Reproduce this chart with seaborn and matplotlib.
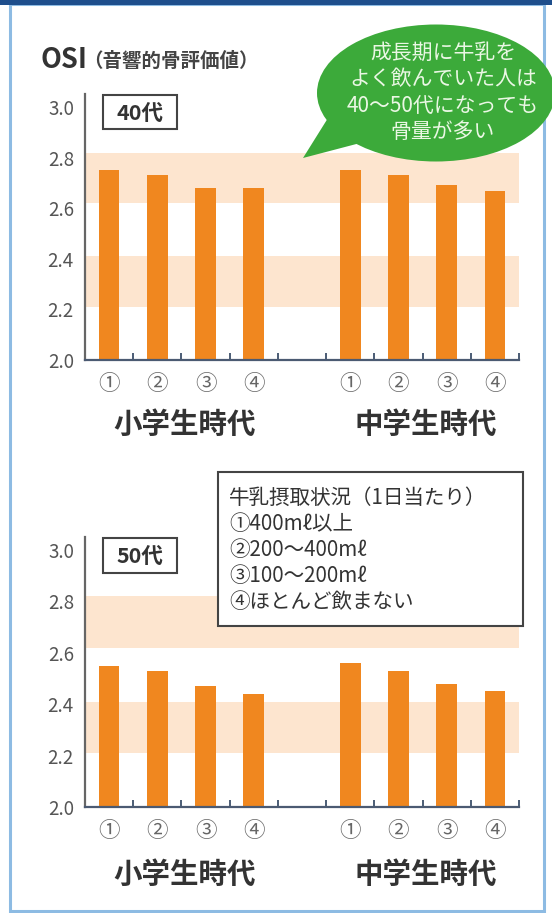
import numpy as np
import pandas as pd
import matplotlib
matplotlib.use("Agg")
import matplotlib.pyplot as plt
import seaborn as sns
from matplotlib.patches import Ellipse, Polygon, Rectangle
from matplotlib.ticker import FixedLocator

sns.set_theme(style="white")
plt.rcParams['font.family'] = ['Noto Sans CJK JP', 'DejaVu Sans']

# ---------------- data ----------------
periods = ["小学生時代", "中学生時代"]
intake = ["①", "②", "③", "④"]
osi_40_elem = [2.75, 2.73, 2.68, 2.68]
osi_40_jhs = [2.75, 2.73, 2.69, 2.67]
osi_50_elem = [2.55, 2.53, 2.47, 2.44]
osi_50_jhs = [2.56, 2.53, 2.48, 2.45]
bands = [(2.21, 2.41), (2.62, 2.82)]
yticks = [2.0, 2.2, 2.4, 2.6, 2.8, 3.0]
age_labels = ["40代", "50代"]
title_main = "OSI"
title_sub = "（音響的骨評価値）"
legend_title = "牛乳摂取状況（1日当たり）"
legend_items = ["①400mℓ以上", "②200～400mℓ", "③100～200mℓ", "④ほとんど飲まない"]
bubble_lines = ["成長期に牛乳を", "よく飲んでいた人は", "40～50代になっても", "骨量が多い"]

BAR = "#F0871F"
BAND = "#FDE5CF"
GREEN = "#3CAA3A"
W, H = 552, 913

fig = plt.figure(figsize=(W / 100, H / 100), dpi=100)
fig.patch.set_facecolor("white")


def make_df(elem, jhs):
    rows = []
    for p, vals in zip(periods, [elem, jhs]):
        for n, v in zip(intake, vals):
            rows.append({"cat": p + n, "osi": v})
    return pd.DataFrame(rows)


order = [periods[0] + n for n in intake] + ["gap"] + [periods[1] + n for n in intake]
xticklabels = intake + [""] + intake


def panel(rect, elem, jhs, label_off):
    ax = fig.add_axes(rect)
    df = make_df(elem, jhs)
    for lo, hi in bands:
        ax.axhspan(lo, hi, color=BAND, lw=0, zorder=0)
    sns.barplot(data=df, x="cat", y="osi", order=order, color=BAR, width=0.43,
                saturation=1, errorbar=None, linewidth=0, ax=ax, zorder=2)
    ax.set_xlim(-0.5, len(order) - 0.5)
    ax.set_ylim(2.0, 3.05)
    ax.set_yticks(yticks)
    ax.set_yticklabels([f"{v:.1f}" for v in yticks])
    ax.set_xticks(range(len(order)))
    ax.set_xticklabels(xticklabels)
    ax.set_xlabel("")
    ax.set_ylabel("")
    ax.set_facecolor("none")
    ax.tick_params(axis="y", length=0, pad=8, labelsize=13.5, labelcolor="#555555")
    ax.tick_params(axis="x", which="major", length=0, pad=9, labelsize=15.5, labelcolor="#666666")
    ax.xaxis.set_minor_locator(FixedLocator(np.arange(0.5, len(order), 1.0)))
    ax.tick_params(axis="x", which="minor", bottom=True, direction="in", length=5,
                   width=1.3, color="#3d4f6a")
    for s in ["top", "right"]:
        ax.spines[s].set_visible(False)
    ax.spines["left"].set_color("#666666")
    ax.spines["left"].set_linewidth(1.6)
    ax.spines["bottom"].set_color("#4b5a72")
    ax.spines["bottom"].set_linewidth(1.6)
    for i, p in enumerate(periods):
        cx = 1.5 + 5 * i
        ax.annotate(p, xy=(cx, 0), xycoords=("data", "axes fraction"),
                    xytext=(3, -label_off), textcoords="offset pixels",
                    ha="center", va="center", fontsize=20.5, fontweight="bold",
                    color="#333333")
    return ax


left = 85 / W
width = 434 / W
ax1 = panel([left, 1 - 360 / H, width, (360 - 94.4) / H], osi_40_elem, osi_40_jhs, 65)
ax2 = panel([left, 1 - 807 / H, width, (807 - 537) / H], osi_50_elem, osi_50_jhs, 68)

# ---------------- overlay (annotations, frame) ----------------
ov = fig.add_axes([0, 0, 1, 1], zorder=10)
ov.set_xlim(0, W)
ov.set_ylim(H, 0)
ov.axis("off")
ov.patch.set_alpha(0)

# frame
ov.add_patch(Rectangle((10, 4), 534, 907, fill=False, edgecolor="#8DBBE3", lw=2.2))
ov.add_patch(Rectangle((0, 0), W, 5, color="#1E4E8C", lw=0))

# title
ov.text(41, 60, title_main, fontsize=19.5, fontweight="bold", color="#333333",
        ha="left", va="center")
ov.text(83, 61, title_sub, fontsize=14, fontweight="bold", color="#444444",
        ha="left", va="center")

# age boxes
for (y0, y1), lab in zip([(95, 129), (538, 573)], age_labels):
    ov.add_patch(Rectangle((103, y0), 74, y1 - y0, facecolor="white",
                           edgecolor="#444444", lw=1.5))
    ov.text(140, (y0 + y1) / 2 + 1, lab, fontsize=15.5, fontweight="bold",
            color="#333333", ha="center", va="center")

# speech bubble
ov.add_patch(Ellipse((436, 93), 238, 137, facecolor=GREEN, edgecolor="none"))
ov.add_patch(Polygon([(328, 118), (303, 158), (364, 142)], closed=True,
                     facecolor=GREEN, edgecolor="none"))
for i, line in enumerate(bubble_lines):
    ov.text(443, 53 + 26.5 * i, line, fontsize=15, color="#EAF7E4",
            ha="center", va="center")

# legend box
ov.add_patch(Rectangle((218, 472), 305, 154, facecolor="white",
                       edgecolor="#444444", lw=1.5))
for i, line in enumerate([legend_title] + legend_items):
    ov.text(229, 498 + 26 * i, line, fontsize=14.8, color="#333333",
            ha="left", va="center")

fig.savefig("out.png", dpi=100)
